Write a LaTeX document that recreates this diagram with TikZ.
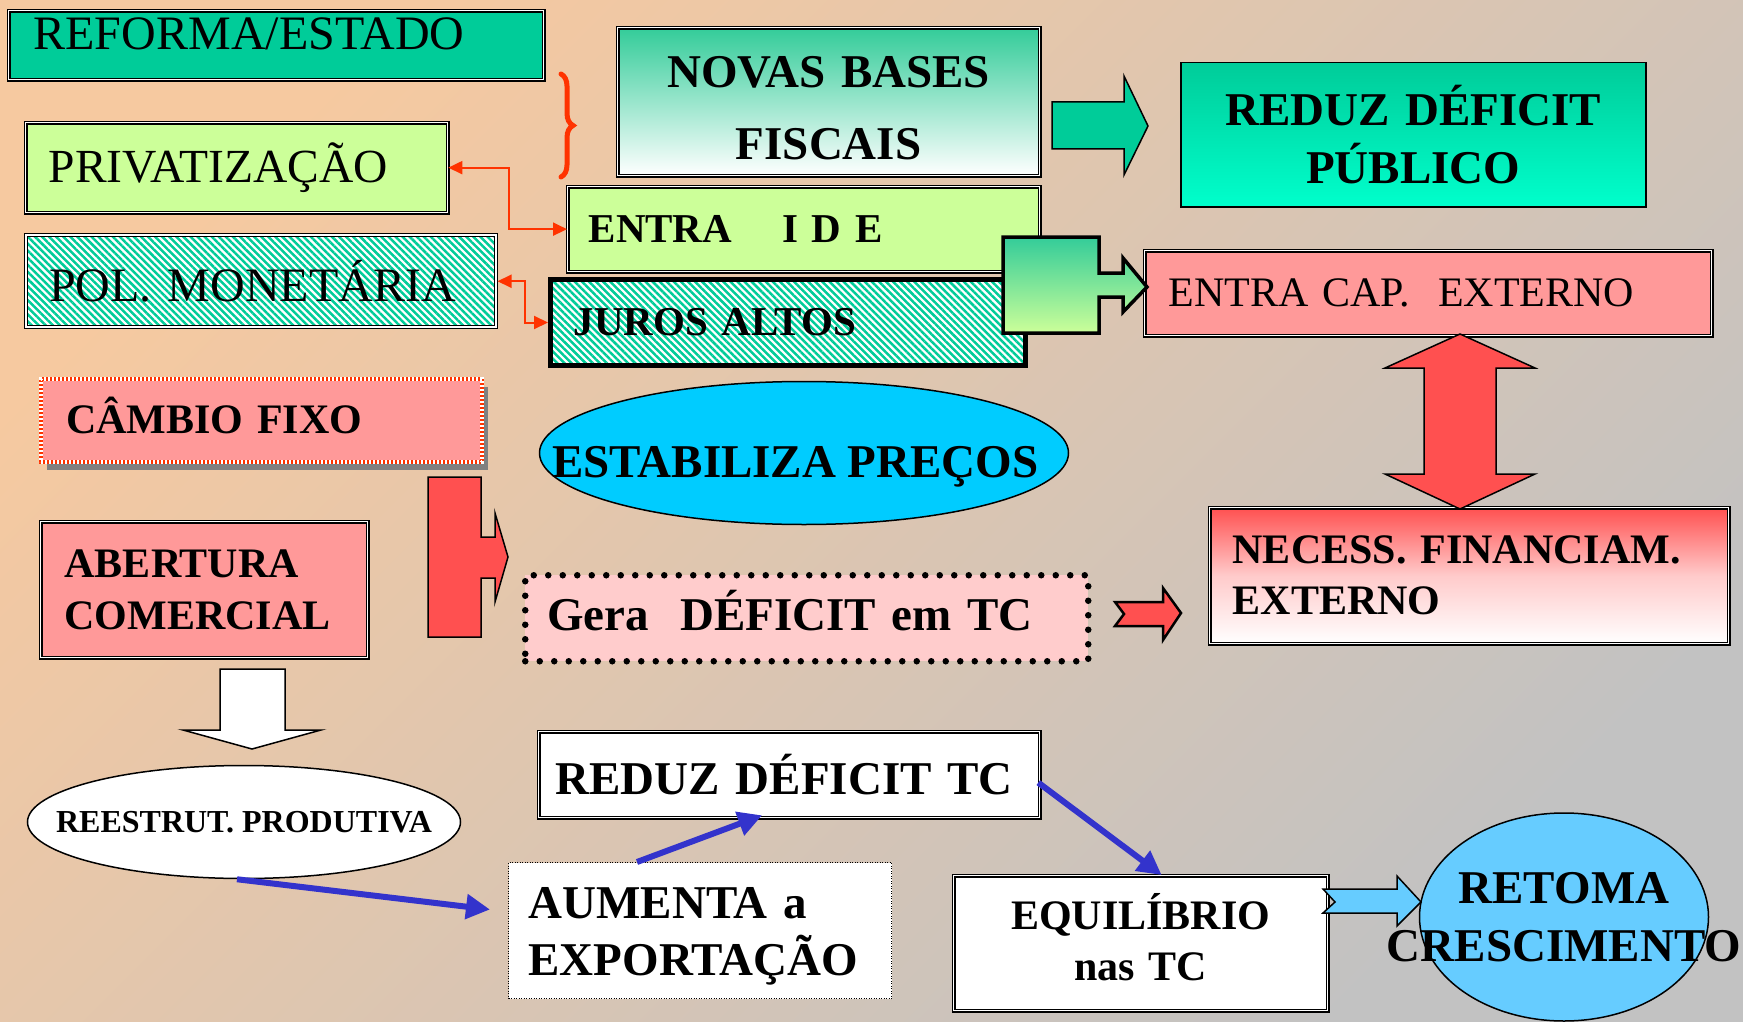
\documentclass[tikz,border=0pt]{standalone}
\usepackage{fontspec}
\setmainfont{Liberation Serif}
\usetikzlibrary{arrows.meta,decorations.pathreplacing,patterns.meta,shadows,shapes.geometric}

\definecolor{bgtop}{HTML}{F6C9A0}
\definecolor{bgbot}{HTML}{C2C2C2}
\definecolor{tealc}{HTML}{00CC99}
\definecolor{limec}{HTML}{CCFF99}
\definecolor{pinkc}{HTML}{FF9999}
\definecolor{redc}{HTML}{FF5050}
\definecolor{redline}{HTML}{FF3300}
\definecolor{blueline}{HTML}{3333CC}
\definecolor{cyanc}{HTML}{00CCFF}
\definecolor{skyc}{HTML}{66CCFF}
\definecolor{gerac}{HTML}{FFCCCC}
\definecolor{novtop}{HTML}{33CC99}
\definecolor{pubbot}{HTML}{00FFCC}

\begin{document}
\begin{tikzpicture}[x=1pt,y=-1pt,
     % define styles
     box/.style={
         rectangle, anchor=north west, inner ysep=0pt, align=left
     },
     dbl/.style={
         draw, line width=1.3pt, double=white, double distance=1.6pt
     },
     rtxt/.style 2 args={font=\fontsize{#1}{#2}\selectfont},
     btxt/.style 2 args={font=\bfseries\fontsize{#1}{#2}\selectfont},
     hatch/.style={
         preaction={fill=white},
         pattern={Lines[angle=-45,distance=5pt,line width=2.5pt]},
         pattern color=tealc
     },
     oval/.style={
         ellipse, draw, line width=1.5pt, inner sep=0pt
     },
     blk/.style={draw, line width=1.5pt, line join=miter},
     redarr/.style={
         draw=redline, line width=2pt,
         {Triangle[length=14pt,width=13pt]}-{Triangle[length=14pt,width=13pt]}
     },
     bluearr/.style={
         draw=blueline, line width=6pt,
         -{Triangle[length=24pt,width=24pt]}
     }
]
% background
\shade[top color=bgtop, bottom color=bgbot, shading angle=45] (0,0) rectangle (1743,1022);
\useasboundingbox (0,0) rectangle (1743,1022);

% left column
\node[box, dbl, fill=tealc, minimum width=535pt, minimum height=69pt, inner xsep=25pt,
      text width=485pt, rtxt={48}{52}, text height=31pt, text depth=23pt] (reforma) at (8,10) {REFORMA/ESTADO};
\node[box, dbl, fill=limec, minimum width=422pt, minimum height=90pt, inner xsep=23pt,
      text width=376pt, rtxt={47.5}{52}] (privat) at (25,122) {PRIVATIZAÇÃO};
\node[box, dbl, hatch, minimum width=470pt, minimum height=92pt, inner xsep=23pt,
      text width=424pt, rtxt={48}{52}] (polmon) at (25,234) {POL. MONETÁRIA};
\node[box, draw=redline, line width=4pt, fill=pinkc,
      drop shadow={shadow xshift=6pt, shadow yshift=-8pt, fill=gray, opacity=1},
      postaction={draw=white, line width=4pt, dash pattern=on 2pt off 2pt},
      minimum width=441pt, minimum height=83pt, inner xsep=25pt, text depth=10pt,
      text width=391pt, btxt={42}{48}] (cambio) at (39,377) {CÂMBIO FIXO};
\node[box, dbl, fill=pinkc, minimum width=327pt, minimum height=136pt, inner xsep=24pt,
      text width=279pt, btxt={42}{52}] (abertura) at (40,521) {ABERTURA\\COMERCIAL};
\node[oval, fill=white, minimum width=433pt, minimum height=113pt,
      btxt={32}{36}] (reestrut) at (244,822) {\makebox[0pt]{REESTRUT. PRODUTIVA}};

% middle column
\node[box, dbl, top color=novtop, bottom color=white, minimum width=422pt, minimum height=148pt,
      inner xsep=10pt, text width=402pt, align=center, text height=45pt,
      btxt={47}{72}] (novas) at (617,27) {NOVAS BASES\\FISCAIS};
\node[box, dbl, fill=limec, minimum width=472pt, minimum height=85pt, inner xsep=21pt,
      text width=430pt, btxt={41}{48}] (entraide) at (567,186) {ENTRA\hspace{50pt}I D E};
\node[box, draw, line width=5pt, hatch, minimum width=475pt, minimum height=86pt, inner xsep=23pt,
      text width=429pt, btxt={41}{48}] (juros) at (548,277) {JUROS ALTOS};
\node[oval, fill=cyanc, minimum width=529pt, minimum height=143pt,
      btxt={47}{52}] (estab) at (804,453)
      {\makebox[0pt]{\hspace{-17pt}\raisebox{-24pt}[0pt][0pt]{ESTABILIZA PREÇOS}}};
\node[box, draw, line width=6.5pt, dash pattern=on 0pt off 14.5pt, line cap=round, fill=gerac,
      minimum width=563pt, minimum height=86pt, inner xsep=22pt, text depth=16pt,
      text width=519pt, btxt={47}{52}] (gera) at (522,572) {Gera\ \ DÉFICIT em TC};
\node[box, dbl, fill=white, minimum width=501pt, minimum height=86pt, inner xsep=17pt,
      text width=467pt, btxt={47}{52}] (reduztc) at (538,731) {REDUZ DÉFICIT TC};
\node[box, draw, line width=1pt, dash pattern=on 1pt off 1.5pt, fill=white,
      minimum width=383pt, minimum height=136pt, inner xsep=20pt, text height=43pt,
      text width=343pt, btxt={47}{57}] (aumenta) at (508,862) {AUMENTA a\\EXPORTAÇÃO};

% right column
\node[box, draw, line width=1.5pt, top color=tealc, bottom color=pubbot, minimum width=465pt,
      minimum height=144pt, inner xsep=10pt, text width=445pt, align=center,
      btxt={47}{58}] (redpub) at (1180,62) {REDUZ DÉFICIT\\PÚBLICO};
\node[box, dbl, fill=pinkc, minimum width=567pt, minimum height=85pt, inner xsep=24pt,
      text width=519pt, rtxt={42}{48}] (entracap) at (1144,250) {ENTRA CAP.\ \ EXTERNO};
\node[box, dbl, top color=redc, bottom color=white, middle color=redc!30, minimum width=519pt,
      minimum height=136pt, inner xsep=23pt, text width=473pt,
      btxt={42}{51}] (necess) at (1209,507) {NECESS. FINANCIAM.\\EXTERNO};
\node[box, dbl, fill=white, minimum width=374pt, minimum height=135pt, inner xsep=10pt,
      text width=354pt, align=center, text height=30pt, text depth=57pt,
      btxt={42}{51}] (equil) at (953,875) {EQUILÍBRIO\\nas TC};
\node[oval, fill=skyc, minimum width=289pt, minimum height=208pt, align=center,
      btxt={47}{58}] (retoma) at (1564,917) {\makebox[0pt]{RETOMA}\\\makebox[0pt]{CRESCIMENTO}};

% block arrows
\draw[blk, fill=tealc] (1052,102) -- (1124,102) -- (1124,76) -- (1148,126) -- (1124,175)
     -- (1124,149) -- (1052,149) -- cycle;
\draw[blk, line width=3.5pt, top color=novtop, bottom color=limec] (1003,237) -- (1099,237)
     -- (1099,273) -- (1123,273) -- (1123,258) -- (1147,287) -- (1123,312) -- (1123,297)
     -- (1099,297) -- (1099,333) -- (1003,333) -- cycle;
\draw[blk, fill=redc] (428,477) -- (481,477) -- (481,537) -- (495,537) -- (495,513) -- (508,557)
     -- (495,602) -- (495,578) -- (481,578) -- (481,637) -- (428,637) -- cycle;
\draw[blk, line width=2.5pt, fill=redc] (1115,602) -- (1163,602) -- (1163,588) -- (1181,613)
     -- (1163,640) -- (1163,626) -- (1115,626) -- (1124,614) -- cycle;
\draw[blk, fill=redc] (1460,334) -- (1535,368) -- (1496,368) -- (1496,474) -- (1535,474)
     -- (1460,509) -- (1385,474) -- (1424,474) -- (1424,368) -- (1385,368) -- cycle;
\draw[blk, fill=white] (220,669) -- (285,669) -- (285,730) -- (321,730) -- (252,749)
     -- (183,730) -- (220,730) -- cycle;
\draw[blk, fill=skyc] (1323,889) -- (1397,889) -- (1397,876) -- (1421,902) -- (1397,926)
     -- (1397,913) -- (1323,913) -- (1335,902) -- cycle;

% brace
\draw[redline, line width=5pt, line cap=round, decorate,
      decoration={brace, amplitude=12pt}] (561,74) -- (561,177);

% connectors
\draw[redarr] (privat.east) -- ([xshift=61pt]privat.east) |- (entraide.west);
\draw[redarr] (polmon.east) -- ([xshift=27pt]polmon.east) |- (juros.west);
\draw[bluearr] ([xshift=-7pt]reestrut.south) -- ([xshift=-18pt,yshift=21pt]aumenta.west);
\draw[bluearr] ([xshift=-63pt]aumenta.north) -- ([xshift=-27pt,yshift=3pt]reduztc.south);
\draw[bluearr] ([xshift=-2pt,yshift=-8pt]reduztc.east) -- ([xshift=21pt]equil.north);
\end{tikzpicture}
\end{document}
